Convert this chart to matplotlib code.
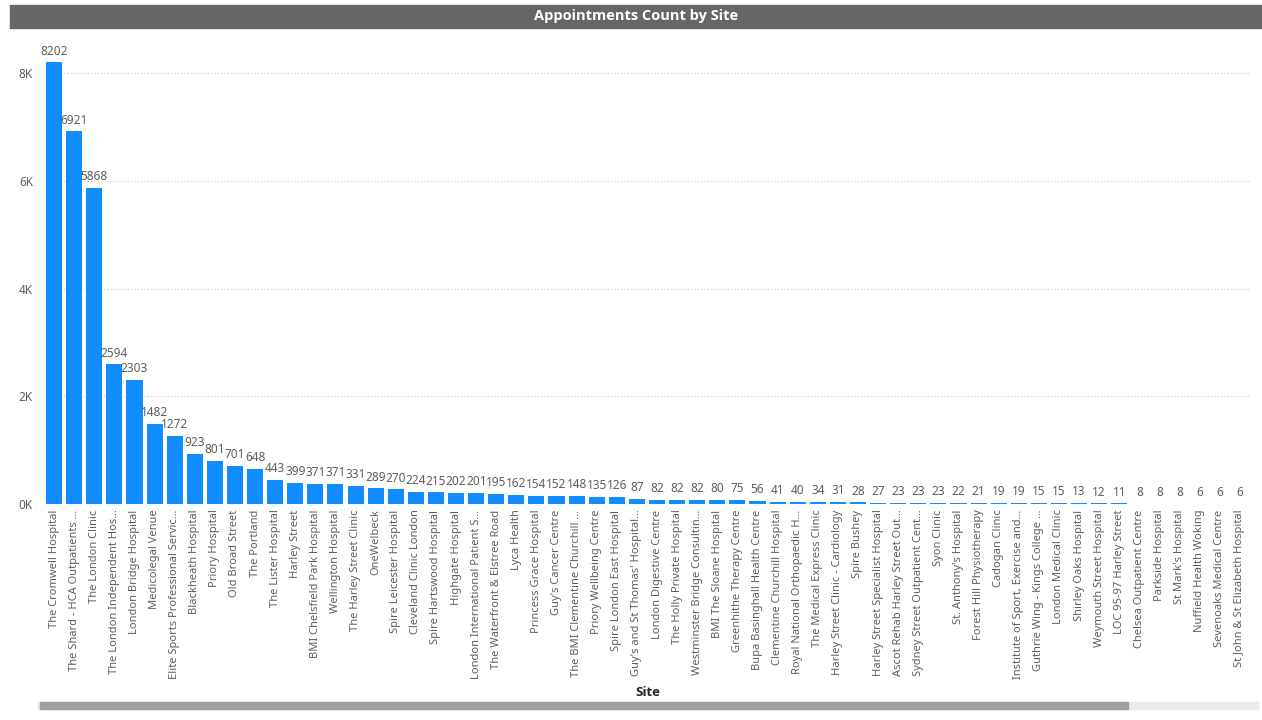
import matplotlib
matplotlib.use("Agg")
import matplotlib.pyplot as plt
from matplotlib.patches import Rectangle
from matplotlib.ticker import FuncFormatter

plt.rcParams['font.family'] = ['Noto Sans', 'DejaVu Sans']

## data
sites = [
    "The Cromwell Hospital", "The Shard - HCA Outpatients ...", "The London Clinic",
    "The London Independent Hos...", "London Bridge Hospital", "Medicolegal Venue",
    "Elite Sports Professional Servic...", "Blackheath Hospital", "Priory Hospital",
    "Old Broad Street", "The Portland", "The Lister Hospital", "Harley Street",
    "BMI Chelsfield Park Hospital", "Wellington Hospital", "The Harley Street Clinic",
    "OneWelbeck", "Spire Leicester Hospital", "Cleveland Clinic London",
    "Spire Hartswood Hospital", "Highgate Hospital", "London International Patient S...",
    "The Waterfront & Elstree Road", "Lyca Health", "Princess Grace Hospital",
    "Guy's Cancer Centre", "The BMI Clementine Churchill ...", "Priory Wellbeing Centre",
    "Spire London East Hospital", "Guy's and St Thomas' Hospital...", "London Digestive Centre",
    "The Holly Private Hospital", "Westminster Bridge Consultin...", "BMI The Sloane Hospital",
    "Greenhithe Therapy Centre", "Bupa Basinghall Health Centre", "Clementine Churchill Hospital",
    "Royal National Orthopaedic H...", "The Medical Express Clinic",
    "Harley Street Clinic - Cardiology", "Spire Bushey", "Harley Street Specialist Hospital",
    "Ascot Rehab Harley Street Out...", "Sydney Street Outpatient Cent...", "Syon Clinic",
    "St. Anthony's Hospital", "Forest Hill Physiotherapy", "Cadogan Clinic",
    "Institute of Sport, Exercise and...", "Guthrie Wing - Kings College ...",
    "London Medical Clinic", "Shirley Oaks Hospital", "Weymouth Street Hospital",
    "LOC 95-97 Harley Street", "Chelsea Outpatient Centre", "Parkside Hospital",
    "St Mark's Hospital", "Nuffield Health Woking", "Sevenoaks Medical Centre",
    "St John & St Elizabeth Hospital",
]
counts = [
    8202, 6921, 5868, 2594, 2303, 1482, 1272, 923, 801, 701, 648, 443, 399, 371, 371,
    331, 289, 270, 224, 215, 202, 201, 195, 162, 154, 152, 148, 135, 126, 87, 82, 82,
    82, 80, 75, 56, 41, 40, 34, 31, 28, 27, 23, 23, 23, 22, 21, 19, 19, 15, 15, 13,
    12, 11, 8, 8, 8, 6, 6, 6,
]
y_ticks = [0, 2000, 4000, 6000, 8000]

fig = plt.figure(figsize=(12.62, 7.2), dpi=100)
ax = fig.add_axes([0.0349, 0.30, 0.9555, 0.643])

x = list(range(len(sites)))
ax.bar(x, counts, width=0.8, color="#118DFF", zorder=2)
for xi, v in zip(x, counts):
    ax.text(xi, v + 90, str(v), ha="center", va="bottom", fontsize=8.5, color="#605E5C")

ax.set_xlim(-0.5, len(sites) - 0.5)
ax.set_ylim(0, 8600)
ax.set_yticks(y_ticks)
ax.yaxis.set_major_formatter(FuncFormatter(lambda v, p: f"{int(v/1000)}K"))
ax.grid(axis="y", linestyle=(0, (1, 2)), color="#C8C8C8", linewidth=0.8, zorder=0)
ax.set_xticks(x)
ax.set_xticklabels(sites, rotation=90, fontsize=8, color="#605E5C")
ax.tick_params(axis="y", labelsize=8.5, labelcolor="#605E5C", length=0, pad=8)
ax.tick_params(axis="x", length=0, pad=4)
for s in ax.spines.values():
    s.set_visible(False)

# title bar
fig.patches.append(Rectangle((10/1262, 1 - 28/720), 1252/1262, 23/720,
                             transform=fig.transFigure, color="#666666", zorder=0))
fig.text(636/1262, 1 - 16/720, "Appointments Count by Site", ha="center", va="center",
         fontsize=10.5, fontweight="bold", color="white", family=["Open Sans", "DejaVu Sans"])

fig.text(648/1262, 1 - 692/720, "Site", ha="center", va="center", fontsize=9.5,
         fontweight="bold", color="#252423", family=["Open Sans", "DejaVu Sans"])

# scrollbar
fig.patches.append(Rectangle((38/1262, 1 - 709/720), 1220/1262, 7/720,
                             transform=fig.transFigure, color="#EAEAEA", zorder=0))
fig.patches.append(Rectangle((40/1262, 1 - 709/720), 1088/1262, 7/720,
                             transform=fig.transFigure, color="#A0A0A0", zorder=1))

fig.savefig("out.png", dpi=100)
